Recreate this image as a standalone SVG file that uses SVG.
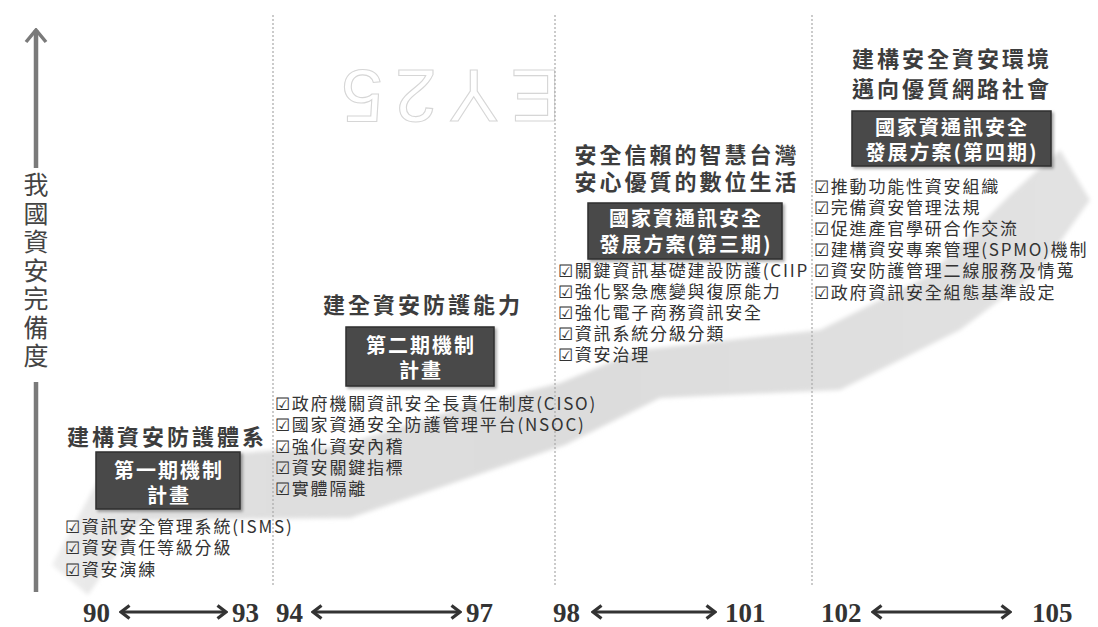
<svg xmlns="http://www.w3.org/2000/svg" width="1098" height="627" viewBox="0 0 1098 627">
<defs>
<style>
.title{font-family:"Noto Sans CJK TC","Noto Sans CJK SC",sans-serif;font-size:22px;font-weight:bold;fill:#3d3d3d;letter-spacing:3px;text-anchor:middle}
.item{font-family:"Noto Sans CJK TC","Noto Sans CJK SC",sans-serif;font-size:17px;fill:#333;letter-spacing:1.8px}
.boxt{font-family:"Noto Sans CJK TC","Noto Sans CJK SC",sans-serif;font-size:20px;font-weight:bold;fill:#fff;letter-spacing:2px;text-anchor:middle}
.box{fill:#4a4a4a;stroke:#2f2f2f;stroke-width:1.5}
.num{font-family:"Liberation Serif",serif;font-weight:bold;font-size:27px;fill:#333}
.div{stroke:#a9a9a9;stroke-width:1.2;stroke-dasharray:2 2;fill:none}
.tl{stroke:#333;stroke-width:3;fill:none}
.ax{font-family:"Noto Sans CJK TC","Noto Sans CJK SC",sans-serif;font-size:25px;fill:#444}
</style>
<linearGradient id="bandg" x1="40" y1="0" x2="1090" y2="0" gradientUnits="userSpaceOnUse">
<stop offset="0" stop-color="#f0f0f0"/>
<stop offset="0.1" stop-color="#e0e0e0"/>
<stop offset="0.5" stop-color="#dcdcdc"/>
<stop offset="1" stop-color="#e2e2e2"/>
</linearGradient>
<marker id="chev" viewBox="0 0 12 16" refX="10" refY="8" markerWidth="12" markerHeight="16" markerUnits="userSpaceOnUse" orient="auto-start-reverse">
<path d="M1.5,1.5 L10,8 L1.5,14.5" fill="none" stroke="#333" stroke-width="3.2"/>
</marker>
<marker id="axhead" viewBox="0 0 16 24" refX="14" refY="12" markerWidth="16" markerHeight="24" markerUnits="userSpaceOnUse" orient="auto">
<path d="M2,2 L14,12 L2,22" fill="none" stroke="#7a7a7a" stroke-width="3.5"/>
</marker>
<filter id="soft" x="-5%" y="-5%" width="110%" height="110%"><feGaussianBlur stdDeviation="2"/></filter>
<filter id="shadow" x="-10%" y="-10%" width="125%" height="130%"><feDropShadow dx="2" dy="2" stdDeviation="1.5" flood-color="#000" flood-opacity="0.35"/></filter>
</defs>
<rect width="1098" height="627" fill="#fff"/>

<polygon id="band" filter="url(#soft)" fill="url(#bandg)" points="52,565 108,462 340,446 470,405 560,383 640,350 820,330 930,275 1010,195 1060,150 1090,200 1040,270 960,330 840,390 660,398 565,445 350,518 140,520 88,595"/>

<text x="445" y="124" transform="rotate(180 445 97)" text-anchor="middle" font-family="Liberation Sans, sans-serif" font-size="75" letter-spacing="12" fill="none" stroke="#d6d6d6" stroke-width="1.1">EY25</text>

<g id="dividers">
<line class="div" x1="273" y1="15" x2="273" y2="585"/>
<line class="div" x1="555" y1="15" x2="555" y2="585"/>
<line class="div" x1="812" y1="15" x2="812" y2="585"/>
</g>

<g id="connectors">
<line x1="36" y1="168" x2="36" y2="30" stroke="#7a7a7a" stroke-width="4.5" marker-end="url(#axhead)"/>
<line x1="36" y1="382" x2="36" y2="592" stroke="#7a7a7a" stroke-width="4.5"/>
<line class="tl" x1="121" y1="612" x2="226" y2="612" marker-start="url(#chev)" marker-end="url(#chev)"/>
<line class="tl" x1="313" y1="612" x2="460" y2="612" marker-start="url(#chev)" marker-end="url(#chev)"/>
<line class="tl" x1="593" y1="612" x2="715" y2="612" marker-start="url(#chev)" marker-end="url(#chev)"/>
<line class="tl" x1="873" y1="612" x2="1010" y2="612" marker-start="url(#chev)" marker-end="url(#chev)"/>
</g>

<g id="axis-label">
<text class="ax" x="36" y="172" writing-mode="vertical-rl" letter-spacing="3.5">我國資安完備度</text>
</g>

<g id="years">
<text class="num" x="83" y="622">90</text>
<text class="num" x="232" y="622">93</text>
<text class="num" x="276" y="622">94</text>
<text class="num" x="466" y="622">97</text>
<text class="num" x="553" y="622">98</text>
<text class="num" x="725" y="622">101</text>
<text class="num" x="821" y="622">102</text>
<text class="num" x="1032" y="622">105</text>
</g>

<g id="phase1">
<text class="title" x="167" y="445">建構資安防護體系</text>
<rect class="box" x="96" y="452" width="144" height="57" filter="url(#shadow)"/>
<text class="boxt" x="169" y="478">第一期機制<tspan x="169" dy="25">計畫</tspan></text>
<text class="item" x="65" y="533">☑資訊安全管理系統(ISMS)<tspan x="65" dy="21">☑資安責任等級分級</tspan><tspan x="65" dy="22">☑資安演練</tspan></text>
</g>

<g id="phase2">
<text class="title" x="423" y="313">建全資安防護能力</text>
<rect class="box" x="346" y="327" width="148" height="59" filter="url(#shadow)"/>
<text class="boxt" x="421" y="353">第二期機制<tspan x="421" dy="25">計畫</tspan></text>
<text class="item" x="275" y="410">☑政府機關資訊安全長責任制度(CISO)<tspan x="275" dy="21">☑國家資通安全防護管理平台(NSOC)</tspan><tspan x="275" dy="22">☑強化資安內稽</tspan><tspan x="275" dy="21">☑資安關鍵指標</tspan><tspan x="275" dy="21">☑實體隔離</tspan></text>
</g>

<g id="phase3">
<text class="title" x="687" y="163">安全信賴的智慧台灣<tspan x="687" dy="27">安心優質的數位生活</tspan></text>
<rect class="box" x="588" y="203" width="194" height="56" filter="url(#shadow)"/>
<text class="boxt" x="686" y="226">國家資通訊安全<tspan x="686" dy="26">發展方案(第三期)</tspan></text>
<text class="item" x="558" y="277">☑關鍵資訊基礎建設防護(CIIP<tspan x="558" dy="21">☑強化緊急應變與復原能力</tspan><tspan x="558" dy="21">☑強化電子商務資訊安全</tspan><tspan x="558" dy="21">☑資訊系統分級分類</tspan><tspan x="558" dy="21">☑資安治理</tspan></text>
</g>

<g id="phase4">
<text class="title" x="952" y="67">建構安全資安環境<tspan x="952" dy="30">邁向優質網路社會</tspan></text>
<rect class="box" x="852" y="111" width="199" height="55" filter="url(#shadow)"/>
<text class="boxt" x="952" y="135">國家資通訊安全<tspan x="952" dy="25">發展方案(第四期)</tspan></text>
<text class="item" x="814" y="193">☑推動功能性資安組織<tspan x="814" dy="21">☑完備資安管理法規</tspan><tspan x="814" dy="21">☑促進產官學研合作交流</tspan><tspan x="814" dy="21">☑建構資安專案管理(SPMO)機制</tspan><tspan x="814" dy="21">☑資安防護管理二線服務及情蒐</tspan><tspan x="814" dy="22">☑政府資訊安全組態基準設定</tspan></text>
</g>
</svg>
